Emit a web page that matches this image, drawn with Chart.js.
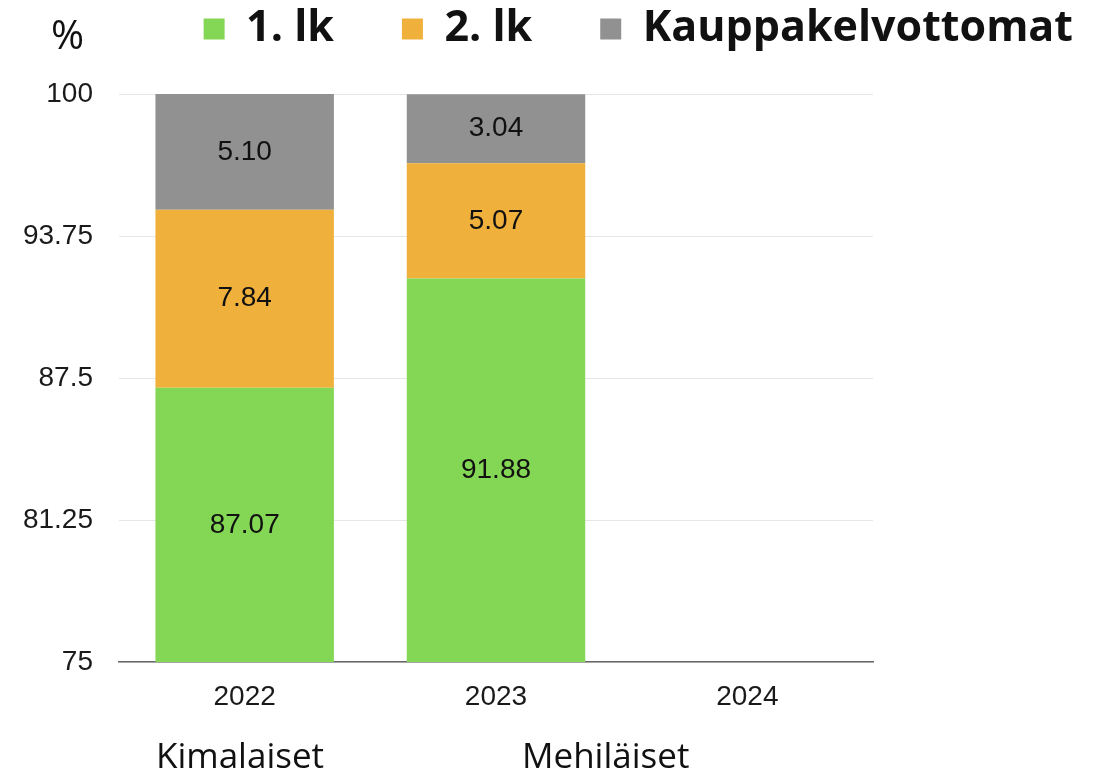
<!DOCTYPE html>
<html>
<head>
<meta charset="utf-8">
<script src="https://cdn.jsdelivr.net/npm/chart.js@4"></script>
<style>
  html, body { margin: 0; padding: 0; background: #fff; }
  #wrap { position: relative; width: 1107px; height: 777px; }
  .note { position: absolute; font-family: "Open Sans", sans-serif; color: #111; white-space: nowrap; }
</style>
</head>
<body>
<div id="wrap">
  <canvas id="harvestChart" width="1107" height="777"></canvas>
  <div class="note" id="unit" style="left:51px; top:6px; font-size:40px;">%</div>
  <div class="note" style="left:156px; top:731px; font-size:35px;">Kimalaiset</div>
  <div class="note" style="left:522px; top:731px; font-size:35px;">Mehiläiset</div>
</div>
<script>
const categories = ['2022', '2023', '2024'];
const seriesNames = ['1. lk', '2. lk', 'Kauppakelvottomat'];
const firstClass = [87.07, 91.88, null];
const secondClass = [7.84, 5.07, null];
const unsellable = [5.10, 3.04, null];
const colors = ['#84d655', '#f0b03c', '#919191'];
const yMin = 75;
const yMax = 100;
const yStep = 6.25;

// value labels in the middle of each visible segment
const segmentLabels = {
  id: 'segmentLabels',
  afterDatasetsDraw(chart) {
    const { ctx, chartArea } = chart;
    ctx.save();
    ctx.font = '28px "Liberation Sans", Arial, sans-serif';
    ctx.fillStyle = '#111';
    ctx.textAlign = 'center';
    ctx.textBaseline = 'middle';
    chart.data.datasets.forEach((ds, i) => {
      chart.getDatasetMeta(i).data.forEach((bar, j) => {
        const v = ds.data[j];
        if (v == null) return;
        const top = Math.max(bar.y, chartArea.top);
        const bottom = Math.min(bar.base, chartArea.bottom);
        ctx.fillText(v.toFixed(2), bar.x, (top + bottom) / 2);
      });
    });
    ctx.restore();
  }
};

// keep the legend's box a fixed height so the plot starts where it should
const legendHeight = {
  id: 'legendHeight',
  afterInit(chart) {
    const lg = chart.legend;
    const fit = lg.fit.bind(lg);
    lg.fit = () => { fit(); lg.height = 154.5; };
  }
};

const ctx = document.getElementById('harvestChart');
new Chart(ctx, {
  type: 'bar',
  data: {
    labels: categories,
    datasets: [
      { label: seriesNames[0], data: firstClass, backgroundColor: colors[0] },
      { label: seriesNames[1], data: secondClass, backgroundColor: colors[1] },
      { label: seriesNames[2], data: unsellable, backgroundColor: colors[2] },
    ],
  },
  options: {
    responsive: false,
    animation: false,
    devicePixelRatio: 1,
    categoryPercentage: 1,
    barPercentage: 0.71,
    layout: { padding: { top: -60.5, right: -34, left: 0, bottom: 0 } },
    plugins: {
      tooltip: { enabled: false },
      legend: {
        position: 'top',
        align: 'end',
        labels: {
          boxWidth: 21,
          boxHeight: 21,
          padding: 68,
          color: '#111',
          font: { family: '"Open Sans", sans-serif', size: 43, weight: 'bold' },
        },
      },
    },
    scales: {
      x: {
        stacked: true,
        grid: { display: false, drawTicks: false },
        border: { display: true, color: '#666', width: 1.5 },
        ticks: {
          padding: 18,
          color: '#1a1a1a',
          font: { family: '"Liberation Sans", Arial, sans-serif', size: 28 },
        },
        afterFit(s) { s.height = 115; },
      },
      y: {
        stacked: true,
        min: yMin,
        max: yMax,
        grid: { color: '#e6e6e6', drawTicks: false },
        border: { display: false },
        ticks: {
          stepSize: yStep,
          padding: 26,
          color: '#1a1a1a',
          font: { family: '"Liberation Sans", Arial, sans-serif', size: 28 },
          callback: (v) => String(v),
        },
        afterFit(s) { s.width = 119; },
      },
      spacer: {
        type: 'linear',
        position: 'right',
        grid: { display: false },
        border: { display: false },
        ticks: { display: false },
        afterFit(s) { s.width = 268; },
      },
    },
  },
  plugins: [segmentLabels, legendHeight],
});
</script>
</body>
</html>
